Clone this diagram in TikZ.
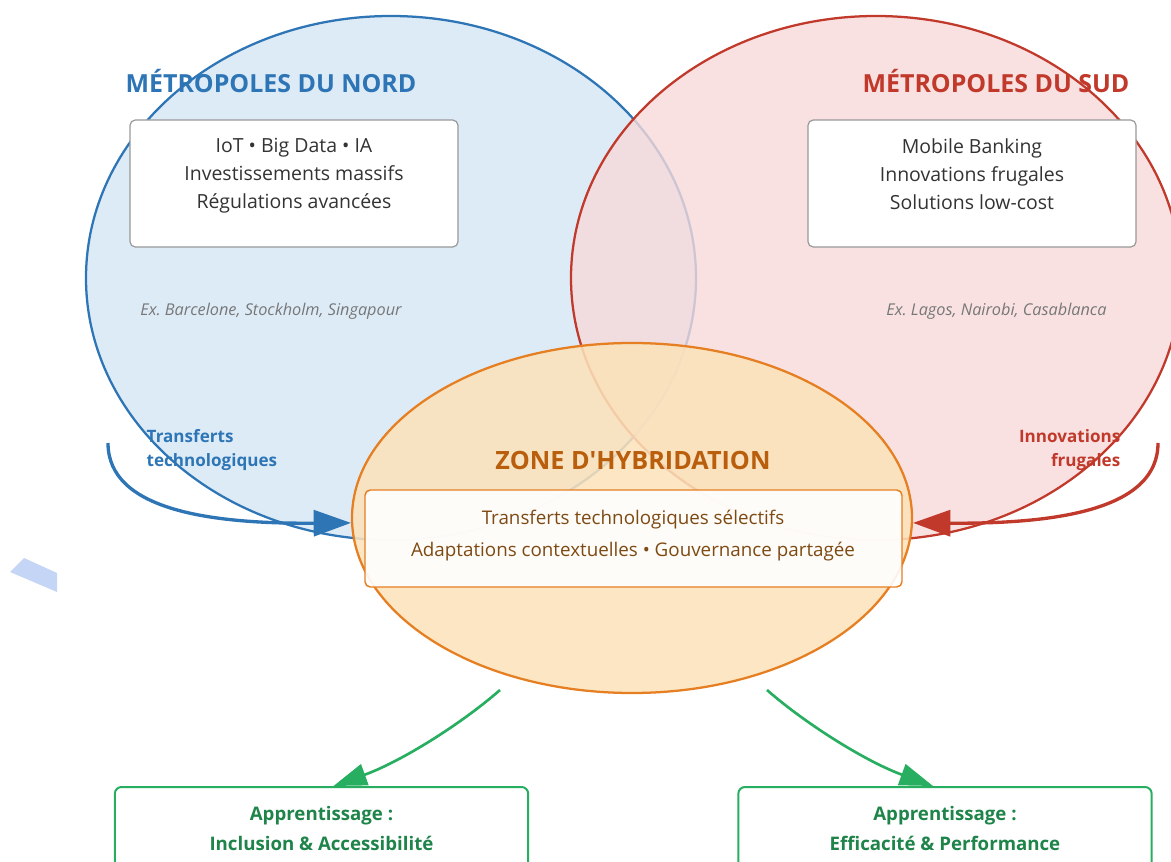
\documentclass[tikz,border=0pt]{standalone}
\usepackage{fontspec}
\setmainfont{Open Sans}[Ligatures=TeXOff]
\usetikzlibrary{shapes.geometric,arrows.meta,calc}
\frenchspacing
\definecolor{nordblue}{HTML}{2E75B6}
\definecolor{nordfill}{HTML}{DDEBF7}
\definecolor{sudred}{HTML}{C0392B}
\definecolor{sudfill}{HTML}{F7D9D9}
\definecolor{hybstroke}{HTML}{E67E22}
\definecolor{hybfill}{HTML}{FBE2BA}
\definecolor{hybtitle}{HTML}{B95E0C}
\definecolor{hybtext}{HTML}{7E4A14}
\definecolor{learngreen}{HTML}{27AE60}
\definecolor{learntext}{HTML}{1E8449}
\definecolor{boxgray}{HTML}{999999}
\definecolor{textgray}{HTML}{333333}
\definecolor{exgray}{HTML}{777777}
\definecolor{shardblue}{HTML}{C5D5F5}
\tikzset{
	metro/.style={ellipse,draw,line width=1.7pt,inner sep=0pt,minimum width=457.5pt,minimum height=393pt},
	infobox/.style={draw=boxgray,fill=white,line width=0.9pt,rounded corners=4pt,minimum width=246pt,minimum height=95.25pt},
	learnbox/.style={draw=learngreen,fill=white,line width=1.5pt,rounded corners=5pt,minimum width=310pt,minimum height=90pt},
	flow/.style={line width=2.5pt,-{Triangle[length=28pt,width=19.5pt]}},
	learnflow/.style={draw=learngreen,line width=2pt,-{Triangle[length=25pt,width=16.5pt]}}
}
\begin{document}
\begin{tikzpicture}[x=0.75pt,y=-0.75pt]
			\newcommand{\mytitlefont}[1]{
				\fontsize{18.7}{22}\selectfont\bfseries{#1}
			}\newcommand{\myboxfont}{\fontsize{14.6}{21}\selectfont}
			\newcommand{\myexfont}{\fontsize{12.2}{14}\selectfont\itshape}
			\newcommand{\mylabelfont}{\fontsize{12.8}{18}\selectfont\bfseries}
			%Frame of the picture
			\useasboundingbox (0,0) rectangle (1171,862);
			\clip (0,0) rectangle (1171,862);
			%Stray shard on the left
			\fill[shardblue] (10,572) -- (24,558) -- (57,573) -- (57,592) -- cycle;
			%Centres of the three zones
			\coordinate (cNord) at (391,278);
			\coordinate (cSud) at (876,278);
			\coordinate (cHyb) at (632,518);
			%The two metropolis ellipses
			\node [metro,draw=nordblue,fill=nordfill] (nord) at (cNord) {};
			\node [metro,draw=sudred,fill=sudfill,fill opacity=0.8] (sud) at (cSud) {};
			%Hybrid zone
			\node [ellipse,draw=hybstroke,fill=hybfill,fill opacity=0.87,line width=1.7pt,inner sep=0pt,minimum width=420pt,minimum height=262.5pt] (hyb) at (cHyb) {};
			%Titles
			\node [text=nordblue] (titleNord) at (271,81) {\mytitlefont{MÉTROPOLES DU NORD}};
			\node [text=sudred] (titleSud) at (996,81) {\mytitlefont{MÉTROPOLES DU SUD}};
			\node [text=hybtitle,font=\fontsize{18.9}{22}\selectfont\bfseries] (titleHyb) at (633,460) {ZONE D'HYBRIDATION};
			%Boxes of the metropolises
			\node [infobox] (boxNord) at (294,183.5) {};
			\node [infobox] (boxSud) at (972,183.5) {};
			\node [text=textgray,align=center,font=\myboxfont] at (294,176) {IoT • Big Data • IA\\Investissements massifs\\Régulations avancées};
			\node [text=textgray,align=center,font=\myboxfont] at (972,174) {Mobile Banking\\Innovations frugales\\Solutions low-cost};
			%Examples
			\node [text=exgray,font=\myexfont] at (271,311) {Ex. Barcelone, Stockholm, Singapour};
			\node [text=exgray,font=\myexfont] at (996.5,311) {Ex. Lagos, Nairobi, Casablanca};
			%Box of the hybrid zone
			\node [draw=hybstroke,fill=white,fill opacity=0.9,text opacity=1,line width=1.1pt,rounded corners=4pt,minimum width=402.75pt,minimum height=72.75pt] (boxHyb) at (633.5,538.5) {};
			\node [text=hybtext,align=center,font=\fontsize{14.1}{24}\selectfont] at (633,536) {Transferts technologiques sélectifs\\Adaptations contextuelles • Gouvernance partagée};
			%Flows towards the hybrid zone
			\coordinate (startNord) at (108,443);
			\coordinate (startSud) at (1158,443);
			\draw [flow,draw=nordblue] (startNord) .. controls (108,510) and (210,524) .. (hyb.181);
			\draw [flow,draw=sudred] (startSud) .. controls (1158,510) and (1056,524) .. (hyb.359);
			\node [text=nordblue,align=left,anchor=west,font=\mylabelfont] (lblNord) at (142,450) {Transferts\\technologiques};
			\node [text=sudred,align=right,anchor=east,font=\mylabelfont] (lblSud) at (1125,450) {Innovations\\frugales};
			%Learning boxes
			\node [learnbox] (inclusion) at (321.5,847) {};
			\node [learnbox] (efficacite) at (945,847) {};
			\node [text=learntext,align=center,font=\fontsize{14}{22.5}\selectfont\bfseries] at (321.5,828) {Apprentissage :\\Inclusion \& Accessibilité};
			\node [text=learntext,align=center,font=\fontsize{14}{22.5}\selectfont\bfseries] at (945,828) {Apprentissage :\\Efficacité \& Performance};
			%Learning flows
			\coordinate (outLeft) at (500,690);
			\coordinate (outRight) at (767,690);
			\draw [learnflow] (outLeft) .. controls (460,725) and (400,762) .. ($(inclusion.north)+(12,0)$);
			\draw [learnflow] (outRight) .. controls (807,725) and (867,762) .. ($(efficacite.north)+(-12,0)$);
\end{tikzpicture}
\end{document}
